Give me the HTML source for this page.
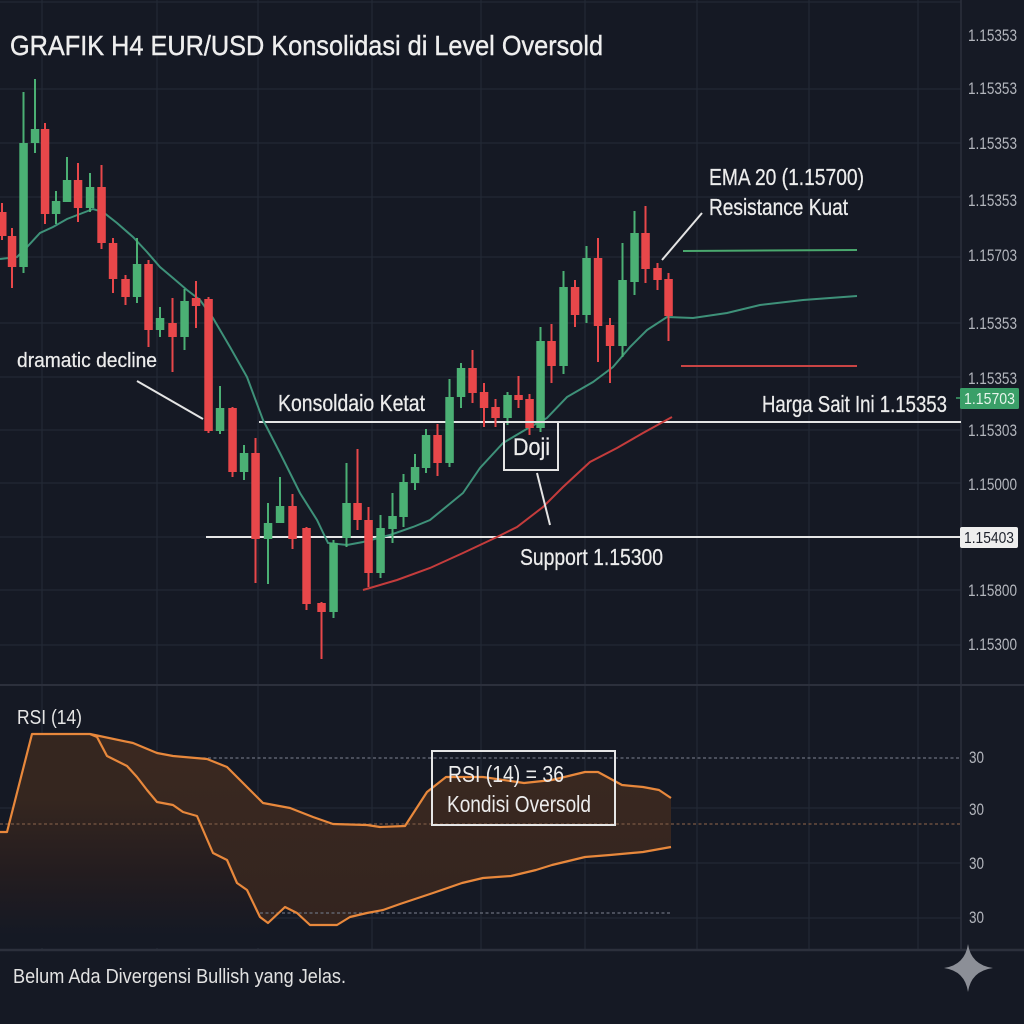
<!DOCTYPE html>
<html><head><meta charset="utf-8"><style>
html,body{margin:0;padding:0;background:#151924;}
svg{display:block;}
text{font-family:"Liberation Sans",sans-serif;}
</style></head><body>
<svg width="1024" height="1024" viewBox="0 0 1024 1024" xmlns="http://www.w3.org/2000/svg">
<defs>
<linearGradient id="fadeL" gradientUnits="userSpaceOnUse" x1="0" y1="800" x2="0" y2="935">
<stop offset="0" stop-color="#35261f"/>
<stop offset="0.55" stop-color="#231c1f"/>
<stop offset="1" stop-color="#151924"/>
</linearGradient>
<linearGradient id="fadeM" gradientUnits="userSpaceOnUse" x1="0" y1="730" x2="0" y2="930">
<stop offset="0" stop-color="#3b2920"/>
<stop offset="1" stop-color="#33241f"/>
</linearGradient>
</defs>
<rect x="0" y="0" width="1024" height="1024" fill="#151924"/>
<rect x="961" y="0" width="63" height="950" fill="#161a25"/>
<!-- grid -->
<g stroke="#232835" stroke-width="1.2">
<line x1="42" y1="0" x2="42" y2="950"/><line x1="157" y1="0" x2="157" y2="950"/><line x1="258" y1="0" x2="258" y2="950"/>
<line x1="372" y1="0" x2="372" y2="950"/><line x1="481" y1="0" x2="481" y2="950"/><line x1="585" y1="0" x2="585" y2="950"/>
<line x1="697" y1="0" x2="697" y2="950"/><line x1="809" y1="0" x2="809" y2="950"/><line x1="918" y1="0" x2="918" y2="950"/>
<line x1="0" y1="2" x2="961" y2="2"/>
<line x1="0" y1="89" x2="961" y2="89"/><line x1="0" y1="143" x2="961" y2="143"/><line x1="0" y1="197" x2="961" y2="197"/>
<line x1="0" y1="257" x2="961" y2="257"/><line x1="0" y1="323" x2="961" y2="323"/><line x1="0" y1="377" x2="961" y2="377"/>
<line x1="0" y1="430" x2="961" y2="430"/><line x1="0" y1="483" x2="961" y2="483"/><line x1="0" y1="537" x2="961" y2="537"/>
<line x1="0" y1="590" x2="961" y2="590"/><line x1="0" y1="645" x2="961" y2="645"/>
<line x1="0" y1="808" x2="961" y2="808"/><line x1="0" y1="863" x2="961" y2="863"/><line x1="0" y1="918" x2="961" y2="918"/>
</g>
<line x1="0" y1="685" x2="1024" y2="685" stroke="#2c303c" stroke-width="2"/>
<line x1="0" y1="950" x2="1024" y2="950" stroke="#2c303c" stroke-width="2.5"/>
<line x1="961" y1="0" x2="961" y2="950" stroke="#2c303c" stroke-width="1.5"/>

<!-- title -->
<text x="10" y="55" font-size="28" fill="#eeeeee" stroke="#eeeeee" stroke-width="0.4" textLength="593" lengthAdjust="spacingAndGlyphs">GRAFIK H4 EUR/USD Konsolidasi di Level Oversold</text>

<!-- horizontal levels -->
<line x1="683" y1="251" x2="857" y2="250" stroke="#4aa86e" stroke-width="2"/>
<line x1="681" y1="366" x2="857" y2="366" stroke="#c94444" stroke-width="2"/>
<line x1="259" y1="422" x2="961" y2="422" stroke="#e6e6e6" stroke-width="2"/>
<line x1="206" y1="537" x2="961" y2="537" stroke="#e6e6e6" stroke-width="2"/>

<!-- EMA teal -->
<polyline fill="none" stroke="#3e9179" stroke-width="2" points="0,259 17,257 27,247 40,233 53,227 67,219 80,214 93,209 103,212 117,223 133,237 147,252 160,267 173,278 187,290 200,300 213,318 230,347 247,377 263,420 280,453 300,493 317,520 328,543 347,545 363,542 390,535 413,527 430,520 463,493 480,468 503,443 530,427 547,418 567,397 593,382 613,367 630,347 647,330 667,317 693,318 727,313 760,305 803,300 857,296"/>
<!-- red line -->
<polyline fill="none" stroke="#c43c3c" stroke-width="2" points="363,590 397,580 430,568 463,553 497,537 517,527 543,507 563,487 590,462 617,448 643,433 672,417"/>

<!-- candles -->
<g>
<g fill="#e8474a" stroke="#e8474a">
<line x1="2" y1="203" x2="2" y2="240" stroke-width="2"/><rect x="-2" y="212" width="8.5" height="24" stroke="none"/>
<line x1="12" y1="228" x2="12" y2="288" stroke-width="2"/><rect x="7.8" y="236" width="8.5" height="31" stroke="none"/>
<line x1="45" y1="123" x2="45" y2="224" stroke-width="2"/><rect x="40.8" y="129" width="8.5" height="85" stroke="none"/>
<line x1="78" y1="163" x2="78" y2="222" stroke-width="2"/><rect x="73.8" y="180" width="8.5" height="28" stroke="none"/>
<line x1="101.5" y1="165" x2="101.5" y2="249" stroke-width="2"/><rect x="97.3" y="187" width="8.5" height="56" stroke="none"/>
<line x1="113" y1="238" x2="113" y2="293" stroke-width="2"/><rect x="108.8" y="243" width="8.5" height="36" stroke="none"/>
<line x1="125.5" y1="275" x2="125.5" y2="305" stroke-width="2"/><rect x="121.3" y="279" width="8.5" height="18" stroke="none"/>
<line x1="148.5" y1="260" x2="148.5" y2="347" stroke-width="2"/><rect x="144.3" y="264" width="8.5" height="66" stroke="none"/>
<line x1="172.5" y1="298" x2="172.5" y2="372" stroke-width="2"/><rect x="168.3" y="323" width="8.5" height="14" stroke="none"/>
<line x1="196" y1="281" x2="196" y2="328" stroke-width="2"/><rect x="191.8" y="298" width="8.5" height="8" stroke="none"/>
<line x1="208.5" y1="297" x2="208.5" y2="433" stroke-width="2"/><rect x="204.3" y="299" width="8.5" height="132" stroke="none"/>
<line x1="232.5" y1="407" x2="232.5" y2="477" stroke-width="2"/><rect x="228.3" y="408" width="8.5" height="64" stroke="none"/>
<line x1="255.5" y1="438" x2="255.5" y2="583" stroke-width="2"/><rect x="251.3" y="453" width="8.5" height="86" stroke="none"/>
<line x1="292.5" y1="494" x2="292.5" y2="549" stroke-width="2"/><rect x="288.3" y="506" width="8.5" height="33" stroke="none"/>
<line x1="306.5" y1="527" x2="306.5" y2="610" stroke-width="2"/><rect x="302.3" y="528" width="8.5" height="76" stroke="none"/>
<line x1="321.5" y1="602" x2="321.5" y2="659" stroke-width="2"/><rect x="317.3" y="603" width="8.5" height="9" stroke="none"/>
<line x1="357.5" y1="449" x2="357.5" y2="530" stroke-width="2"/><rect x="353.3" y="503" width="8.5" height="17" stroke="none"/>
<line x1="368.5" y1="507" x2="368.5" y2="587" stroke-width="2"/><rect x="364.3" y="520" width="8.5" height="53" stroke="none"/>
<line x1="437.5" y1="424" x2="437.5" y2="476" stroke-width="2"/><rect x="433.3" y="435" width="8.5" height="28" stroke="none"/>
<line x1="472.5" y1="350" x2="472.5" y2="403" stroke-width="2"/><rect x="468.3" y="368" width="8.5" height="25" stroke="none"/>
<line x1="484" y1="383" x2="484" y2="427" stroke-width="2"/><rect x="479.8" y="392" width="8.5" height="16" stroke="none"/>
<line x1="495.5" y1="399" x2="495.5" y2="427" stroke-width="2"/><rect x="491.3" y="407" width="8.5" height="11" stroke="none"/>
<line x1="518.5" y1="376" x2="518.5" y2="408" stroke-width="2"/><rect x="514.3" y="395" width="8.5" height="5" stroke="none"/>
<line x1="529.5" y1="394" x2="529.5" y2="435" stroke-width="2"/><rect x="525.3" y="399" width="8.5" height="29" stroke="none"/>
<line x1="551.5" y1="324" x2="551.5" y2="383" stroke-width="2"/><rect x="547.3" y="341" width="8.5" height="25" stroke="none"/>
<line x1="575" y1="280" x2="575" y2="327" stroke-width="2"/><rect x="570.8" y="287" width="8.5" height="28" stroke="none"/>
<line x1="598" y1="238" x2="598" y2="362" stroke-width="2"/><rect x="593.8" y="258" width="8.5" height="68" stroke="none"/>
<line x1="610" y1="318" x2="610" y2="383" stroke-width="2"/><rect x="605.8" y="325" width="8.5" height="21" stroke="none"/>
<line x1="645.5" y1="206" x2="645.5" y2="283" stroke-width="2"/><rect x="641.3" y="233" width="8.5" height="36" stroke="none"/>
<line x1="657.5" y1="263" x2="657.5" y2="290" stroke-width="2"/><rect x="653.3" y="268" width="8.5" height="12" stroke="none"/>
<line x1="668.5" y1="273" x2="668.5" y2="341" stroke-width="2"/><rect x="664.3" y="279" width="8.5" height="37" stroke="none"/>
</g>
<g fill="#4bb074" stroke="#4bb074">
<line x1="23.5" y1="92" x2="23.5" y2="273" stroke-width="2"/><rect x="19.3" y="143" width="8.5" height="124" stroke="none"/>
<line x1="35" y1="79" x2="35" y2="153" stroke-width="2"/><rect x="30.8" y="129" width="8.5" height="14" stroke="none"/>
<line x1="56" y1="191" x2="56" y2="224" stroke-width="2"/><rect x="51.8" y="201" width="8.5" height="13" stroke="none"/>
<line x1="67" y1="157" x2="67" y2="202" stroke-width="2"/><rect x="62.8" y="180" width="8.5" height="22" stroke="none"/>
<line x1="90" y1="173" x2="90" y2="212" stroke-width="2"/><rect x="85.8" y="187" width="8.5" height="21" stroke="none"/>
<line x1="137" y1="238" x2="137" y2="303" stroke-width="2"/><rect x="132.8" y="264" width="8.5" height="33" stroke="none"/>
<line x1="160" y1="307" x2="160" y2="337" stroke-width="2"/><rect x="155.8" y="318" width="8.5" height="12" stroke="none"/>
<line x1="184.5" y1="289" x2="184.5" y2="350" stroke-width="2"/><rect x="180.3" y="301" width="8.5" height="36" stroke="none"/>
<line x1="220" y1="386" x2="220" y2="434" stroke-width="2"/><rect x="215.8" y="408" width="8.5" height="23" stroke="none"/>
<line x1="244" y1="445" x2="244" y2="480" stroke-width="2"/><rect x="239.8" y="453" width="8.5" height="19" stroke="none"/>
<line x1="268" y1="503" x2="268" y2="584" stroke-width="2"/><rect x="263.8" y="523" width="8.5" height="16" stroke="none"/>
<line x1="280" y1="477" x2="280" y2="523" stroke-width="2"/><rect x="275.8" y="506" width="8.5" height="17" stroke="none"/>
<line x1="333.5" y1="540" x2="333.5" y2="618" stroke-width="2"/><rect x="329.3" y="543" width="8.5" height="69" stroke="none"/>
<line x1="346.5" y1="463" x2="346.5" y2="547" stroke-width="2"/><rect x="342.3" y="503" width="8.5" height="35" stroke="none"/>
<line x1="380.5" y1="515" x2="380.5" y2="578" stroke-width="2"/><rect x="376.3" y="528" width="8.5" height="45" stroke="none"/>
<line x1="392.5" y1="493" x2="392.5" y2="543" stroke-width="2"/><rect x="388.3" y="516" width="8.5" height="13" stroke="none"/>
<line x1="403.5" y1="474" x2="403.5" y2="527" stroke-width="2"/><rect x="399.3" y="482" width="8.5" height="35" stroke="none"/>
<line x1="415" y1="454" x2="415" y2="490" stroke-width="2"/><rect x="410.8" y="467" width="8.5" height="16" stroke="none"/>
<line x1="426" y1="429" x2="426" y2="473" stroke-width="2"/><rect x="421.8" y="435" width="8.5" height="33" stroke="none"/>
<line x1="449.5" y1="379" x2="449.5" y2="467" stroke-width="2"/><rect x="445.3" y="397" width="8.5" height="66" stroke="none"/>
<line x1="461" y1="363" x2="461" y2="408" stroke-width="2"/><rect x="456.8" y="368" width="8.5" height="29" stroke="none"/>
<line x1="507.5" y1="392" x2="507.5" y2="425" stroke-width="2"/><rect x="503.3" y="395" width="8.5" height="23" stroke="none"/>
<line x1="540.5" y1="327" x2="540.5" y2="432" stroke-width="2"/><rect x="536.3" y="341" width="8.5" height="87" stroke="none"/>
<line x1="563.5" y1="271" x2="563.5" y2="374" stroke-width="2"/><rect x="559.3" y="287" width="8.5" height="79" stroke="none"/>
<line x1="586.5" y1="246" x2="586.5" y2="323" stroke-width="2"/><rect x="582.3" y="258" width="8.5" height="57" stroke="none"/>
<line x1="622.5" y1="243" x2="622.5" y2="357" stroke-width="2"/><rect x="618.3" y="280" width="8.5" height="66" stroke="none"/>
<line x1="634.5" y1="211" x2="634.5" y2="295" stroke-width="2"/><rect x="630.3" y="233" width="8.5" height="49" stroke="none"/>
</g>
</g>

<!-- annotations -->
<g stroke="#e4e4e4" stroke-width="2" fill="none">
<line x1="137" y1="381" x2="203" y2="419"/>
<line x1="702" y1="213" x2="662" y2="260"/>
<line x1="537" y1="473" x2="550" y2="525"/>
<rect x="504" y="422" width="54" height="48"/>
</g>
<g fill="#ececec" stroke="#ececec" stroke-width="0.25">
<text x="17" y="367" font-size="20" textLength="140" lengthAdjust="spacingAndGlyphs">dramatic decline</text>
<text x="278" y="411" font-size="23" textLength="147" lengthAdjust="spacingAndGlyphs">Konsoldaio Ketat</text>
<text x="762" y="412" font-size="23" textLength="185" lengthAdjust="spacingAndGlyphs">Harga Sait Ini 1.15353</text>
<text x="709" y="185" font-size="23" textLength="155" lengthAdjust="spacingAndGlyphs">EMA 20 (1.15700)</text>
<text x="709" y="215" font-size="23" textLength="139" lengthAdjust="spacingAndGlyphs">Resistance Kuat</text>
<text x="520" y="565" font-size="23" textLength="143" lengthAdjust="spacingAndGlyphs">Support 1.15300</text>
<text x="513" y="455" font-size="24" textLength="37" lengthAdjust="spacingAndGlyphs">Doji</text>
</g>

<!-- price axis -->
<g fill="#b3b6bd" font-size="17">
<text x="968" y="41" textLength="49" lengthAdjust="spacingAndGlyphs">1.15353</text>
<text x="968" y="94" textLength="49" lengthAdjust="spacingAndGlyphs">1.15353</text>
<text x="968" y="149" textLength="49" lengthAdjust="spacingAndGlyphs">1.15353</text>
<text x="968" y="206" textLength="49" lengthAdjust="spacingAndGlyphs">1.15353</text>
<text x="968" y="261" textLength="49" lengthAdjust="spacingAndGlyphs">1.15703</text>
<text x="968" y="329" textLength="49" lengthAdjust="spacingAndGlyphs">1.15353</text>
<text x="968" y="384" textLength="49" lengthAdjust="spacingAndGlyphs">1.15353</text>
<text x="968" y="436" textLength="49" lengthAdjust="spacingAndGlyphs">1.15303</text>
<text x="968" y="490" textLength="49" lengthAdjust="spacingAndGlyphs">1.15000</text>
<text x="968" y="596" textLength="49" lengthAdjust="spacingAndGlyphs">1.15800</text>
<text x="968" y="650" textLength="49" lengthAdjust="spacingAndGlyphs">1.15300</text>
</g>
<line x1="956" y1="398" x2="960" y2="398" stroke="#3fa36d" stroke-width="1.5"/>
<rect x="960" y="388" width="59" height="21" rx="1.5" fill="#3a9f68"/>
<text x="964" y="404" font-size="16" fill="#e8f5ec" textLength="51" lengthAdjust="spacingAndGlyphs">1.15703</text>
<rect x="960" y="527" width="58" height="21" rx="2" fill="#eeeeee"/>
<text x="964" y="543" font-size="16" fill="#1d212b" textLength="50" lengthAdjust="spacingAndGlyphs">1.15403</text>

<!-- RSI panel -->
<line x1="197" y1="758" x2="961" y2="758" stroke="#6a6f7c" stroke-width="1.3" stroke-dasharray="3,2.5"/>
<!-- left fading fill below lower line -->
<polygon fill="url(#fadeL)" points="0,832 7,832 32,734 90,734 97,737 107,756 127,766 137,777 147,790 157,802 173,805 183,812 197,816 213,853 227,860 237,883 247,890 260,917 268,923 268,948 0,948"/>
<!-- fill between lines -->
<polygon fill="url(#fadeM)" points="90,734 133,743 157,753 173,756 207,759 227,767 247,787 263,803 290,808 313,817 333,824 367,825 380,827 405,826 427,792 446,777 483,777 524,783 552,780 585,772 598,772 622,785 643,787 659,790 671,798 671,847 643,852 610,855 585,857 552,865 536,870 511,876 483,878 462,883 433,893 400,904 383,910 367,913 350,917 337,925 310,925 297,913 285,907 268,923 260,917 247,890 237,883 227,860 213,853 197,816 183,812 173,805 157,802 147,790 137,777 127,766 107,756 97,737"/>
<line x1="0" y1="824" x2="961" y2="824" stroke="#7a5843" stroke-width="1.3" stroke-dasharray="3,2.5"/>
<line x1="260" y1="913" x2="671" y2="913" stroke="#6a6f7c" stroke-width="1.3" stroke-dasharray="3,2.5"/>
<polyline fill="none" stroke="#e8883c" stroke-width="2.2" stroke-linejoin="round" points="0,832 7,832 32,734 90,734 133,743 157,753 173,756 207,759 227,767 247,787 263,803 290,808 313,817 333,824 367,825 380,827 405,826 427,792 446,777 483,777 524,783 552,780 585,772 598,772 622,785 643,787 659,790 671,798"/>
<polyline fill="none" stroke="#e8883c" stroke-width="2.2" stroke-linejoin="round" points="90,734 97,737 107,756 127,766 137,777 147,790 157,802 173,805 183,812 197,816 213,853 227,860 237,883 247,890 260,917 268,923 285,907 297,913 310,925 337,925 350,917 367,913 383,910 400,904 433,893 462,883 483,878 511,876 536,870 552,865 585,857 610,855 643,852 671,847"/>
<text x="17" y="724" font-size="20" fill="#e6e6e6" textLength="65" lengthAdjust="spacingAndGlyphs">RSI (14)</text>
<rect x="432" y="751" width="183" height="74" fill="none" stroke="#e6e6e6" stroke-width="2"/>
<text x="448" y="782" font-size="23" fill="#ececec" textLength="116" lengthAdjust="spacingAndGlyphs">RSI (14) = 36</text>
<text x="447" y="812" font-size="23" fill="#ececec" textLength="144" lengthAdjust="spacingAndGlyphs">Kondisi Oversold</text>
<g fill="#b3b6bd" font-size="17">
<text x="969" y="763" textLength="15" lengthAdjust="spacingAndGlyphs">30</text>
<text x="969" y="815" textLength="15" lengthAdjust="spacingAndGlyphs">30</text>
<text x="969" y="869" textLength="15" lengthAdjust="spacingAndGlyphs">30</text>
<text x="969" y="923" textLength="15" lengthAdjust="spacingAndGlyphs">30</text>
</g>

<!-- footer -->
<text x="13" y="983" font-size="20" fill="#e2e2e2" textLength="333" lengthAdjust="spacingAndGlyphs">Belum Ada Divergensi Bullish yang Jelas.</text>
<path d="M968,944 Q971,965 993,968 Q971,971 968,992 Q965,971 944,968 Q965,965 968,944 Z" fill="#8c8f97"/>
</svg>
</body></html>
